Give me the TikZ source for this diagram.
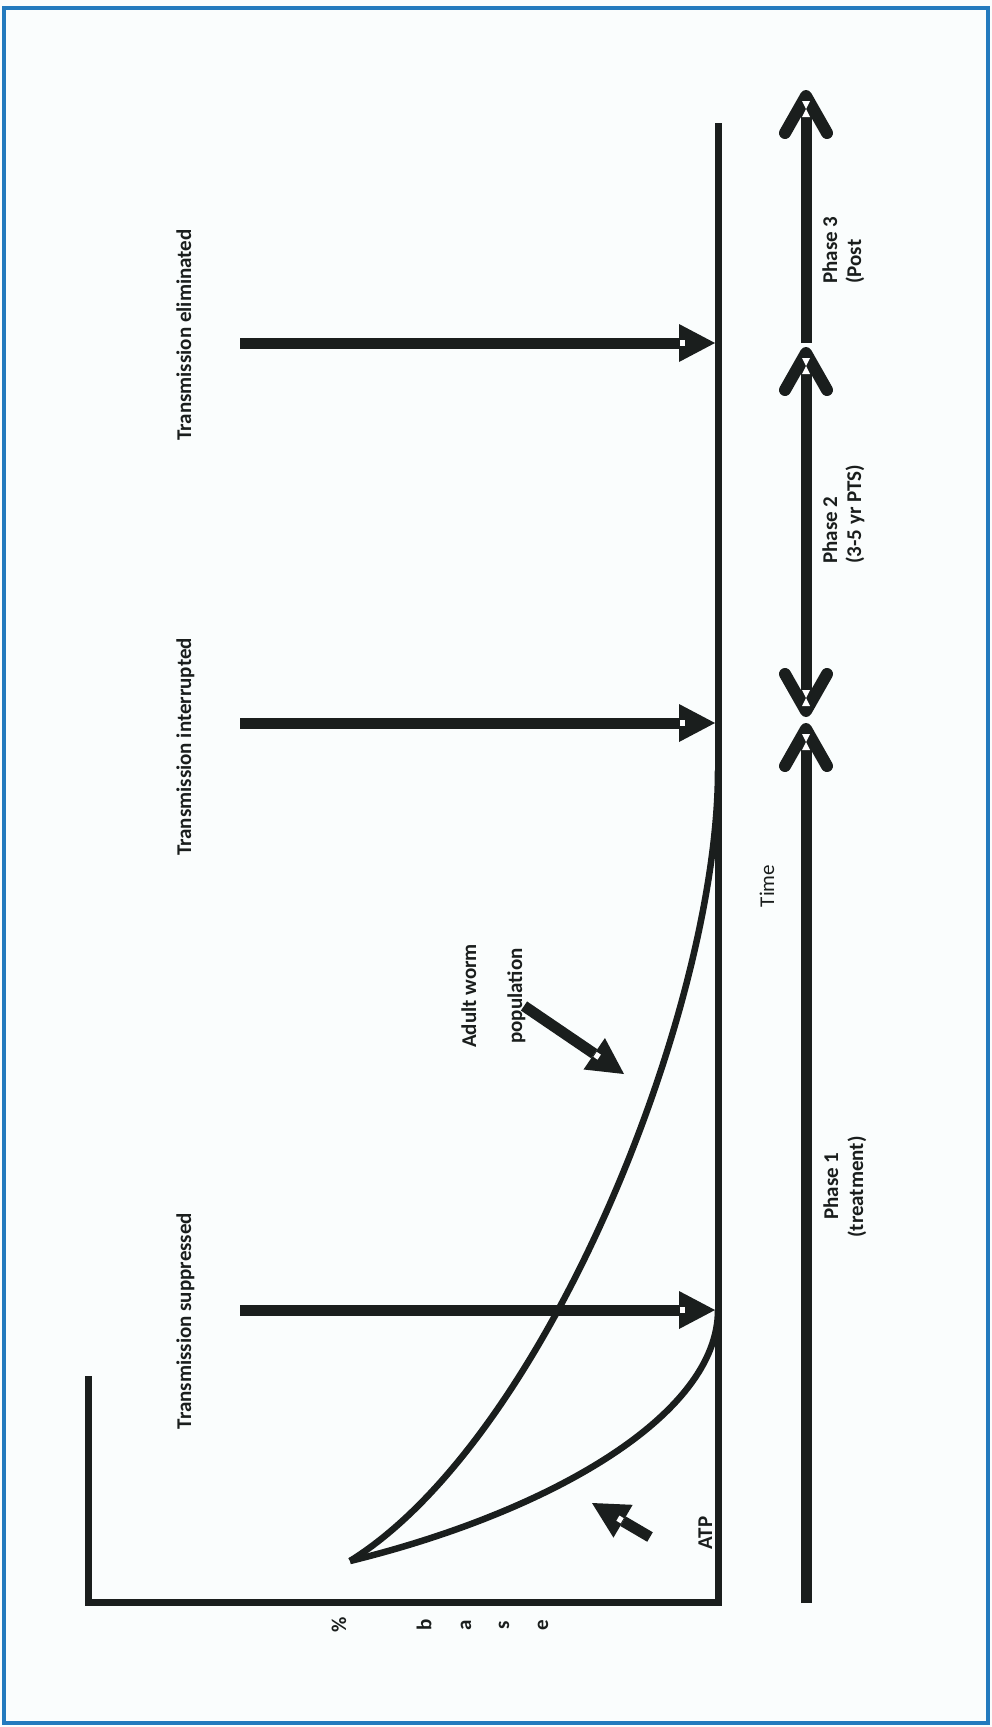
\documentclass[tikz,border=0pt]{standalone}
\usepackage{fontspec}
\setmainfont{Carlito}
\usetikzlibrary{calc}
\definecolor{ink}{RGB}{26,30,29}
\definecolor{framecol}{RGB}{35,122,190}
\definecolor{paper}{RGB}{250,253,253}
\tikzset{
  axisline/.style={draw=ink,line width=7pt,line join=miter},
  decay/.style={draw=ink,line width=6.5pt},
  lbl/.style={font=\fontsize{21}{25}\selectfont\bfseries,text=ink,rotate=90,inner sep=0pt},
  plainlbl/.style={font=\fontsize{21}{25}\selectfont,text=ink,rotate=90,inner sep=0pt},
  basechar/.style={font=\fontsize{21}{24}\selectfont\bfseries,text=ink,rotate=90,inner sep=0pt},
  shaft/.style={draw=ink,line width=11pt},
  chev/.style={draw=ink,line width=12pt,line cap=round,line join=round},
}
\newcommand{\blkarrow}[2]{%
  \coordinate (hb) at ($(#2)!36pt!(#1)$);
  \draw[shaft] (#1) -- (hb);
  \fill[ink] (#2) -- ($(hb)!19pt!90:(#2)$) -- ($(hb)!19pt!-90:(#2)$) -- cycle;
  \draw[white,line width=6pt] ($(hb)!1pt!(#2)$) -- ($(hb)!6pt!(#2)$);
}
\newcommand{\chevup}[2]{%
  \draw[chev] (#1-21,#2+43) -- (#1,#2+6) -- (#1+21,#2+43);
  \fill[white] (#1-4,#2+11) -- (#1+4,#2+11) -- (#1,#2+19) -- (#1+4,#2+27) -- (#1-4,#2+27) -- (#1,#2+19) -- cycle;
}
\newcommand{\chevdown}[2]{%
  \draw[chev] (#1-21,#2-43) -- (#1,#2-6) -- (#1+21,#2-43);
  \fill[white] (#1-4,#2-11) -- (#1+4,#2-11) -- (#1,#2-19) -- (#1+4,#2-27) -- (#1-4,#2-27) -- (#1,#2-19) -- cycle;
}
\begin{document}
\begin{tikzpicture}[x=1pt,y=-1pt]
\useasboundingbox (0,0) rectangle (992,1727);
\fill[paper] (0,0) rectangle (992,1727);
\draw[framecol,line width=4.5pt] (4,8) rectangle (988,1723);

% axes
\coordinate (O) at (718,1602);
\coordinate (Ttop) at (718,123);
\coordinate (Yend) at (88,1602);
\coordinate (Ytop) at (88,1376);
\draw[axisline] (Ytop) -- (Yend) -- (O) -- (Ttop);

% decay curves
\coordinate (S) at (350,1561);
\coordinate (E1) at (718,1310);
\coordinate (E2) at (718,770);
\draw[decay] (S) .. controls (550,1512) and (718,1415) .. (E1);
\draw[decay] (S) .. controls (545,1440) and (718,1010) .. (E2);

% transmission arrows
\coordinate (a1s) at (240,1310); \coordinate (a1t) at (715,1310);
\coordinate (a2s) at (240,723);  \coordinate (a2t) at (715,723);
\coordinate (a3s) at (240,343);  \coordinate (a3t) at (715,343);
\blkarrow{a1s}{a1t}
\blkarrow{a2s}{a2t}
\blkarrow{a3s}{a3t}

% adult worm arrow and ATP arrow
\coordinate (aws) at (524,1006); \coordinate (awt) at (624,1074);
\blkarrow{aws}{awt}
\coordinate (ats) at (650,1537); \coordinate (att) at (592,1503);
\blkarrow{ats}{att}

% phase arrows
\coordinate (p1s) at (806,1603); \coordinate (p1e) at (806,738);
\coordinate (p2s) at (806,702);  \coordinate (p2e) at (806,360);
\coordinate (p3s) at (806,343);  \coordinate (p3e) at (806,104);
\draw[shaft] (p1s) -- (p1e);
\draw[shaft] (p2s) -- (p2e);
\draw[shaft] (p3s) -- (p3e);
\chevup{806}{723}
\chevdown{806}{717}
\chevup{806}{347}
\chevup{806}{90}

% labels
\node[lbl,anchor=base] (tsup) at (191,1321) {Transmission suppressed};
\node[lbl,anchor=base] (tint) at (191,747) {Transmission interrupted};
\node[lbl,anchor=base] (telim) at (191,335) {Transmission eliminated};
\node[lbl,anchor=base] (aw1) at (476,996) {Adult worm};
\node[lbl,anchor=base] (aw2) at (522,996) {population};
\node[plainlbl,anchor=base] (time) at (774,886) {Time};
\node[lbl,anchor=base] (atp) at (712,1533) {ATP};

\node[lbl,anchor=base west] (ph3a) at (837,284) {Phase 3};
\node[lbl,anchor=base west] (ph3b) at (861,284) {(Post};
\node[lbl,anchor=base west] (ph2a) at (837,564) {Phase 2};
\node[lbl,anchor=base west] (ph2b) at (861,564) {(3-5 yr PTS)};
\node[lbl,anchor=base] (ph1a) at (838,1186) {Phase 1};
\node[lbl,anchor=base] (ph1b) at (863,1187) {(treatment)};

% y-axis letters
\node[basechar] (c1) at (339,1625) {\%};
\node[basechar] (c2) at (424,1625) {b};
\node[basechar] (c3) at (466,1625) {a};
\node[basechar] (c4) at (504,1625) {s};
\node[basechar] (c5) at (543,1625) {e};
\end{tikzpicture}
\end{document}
